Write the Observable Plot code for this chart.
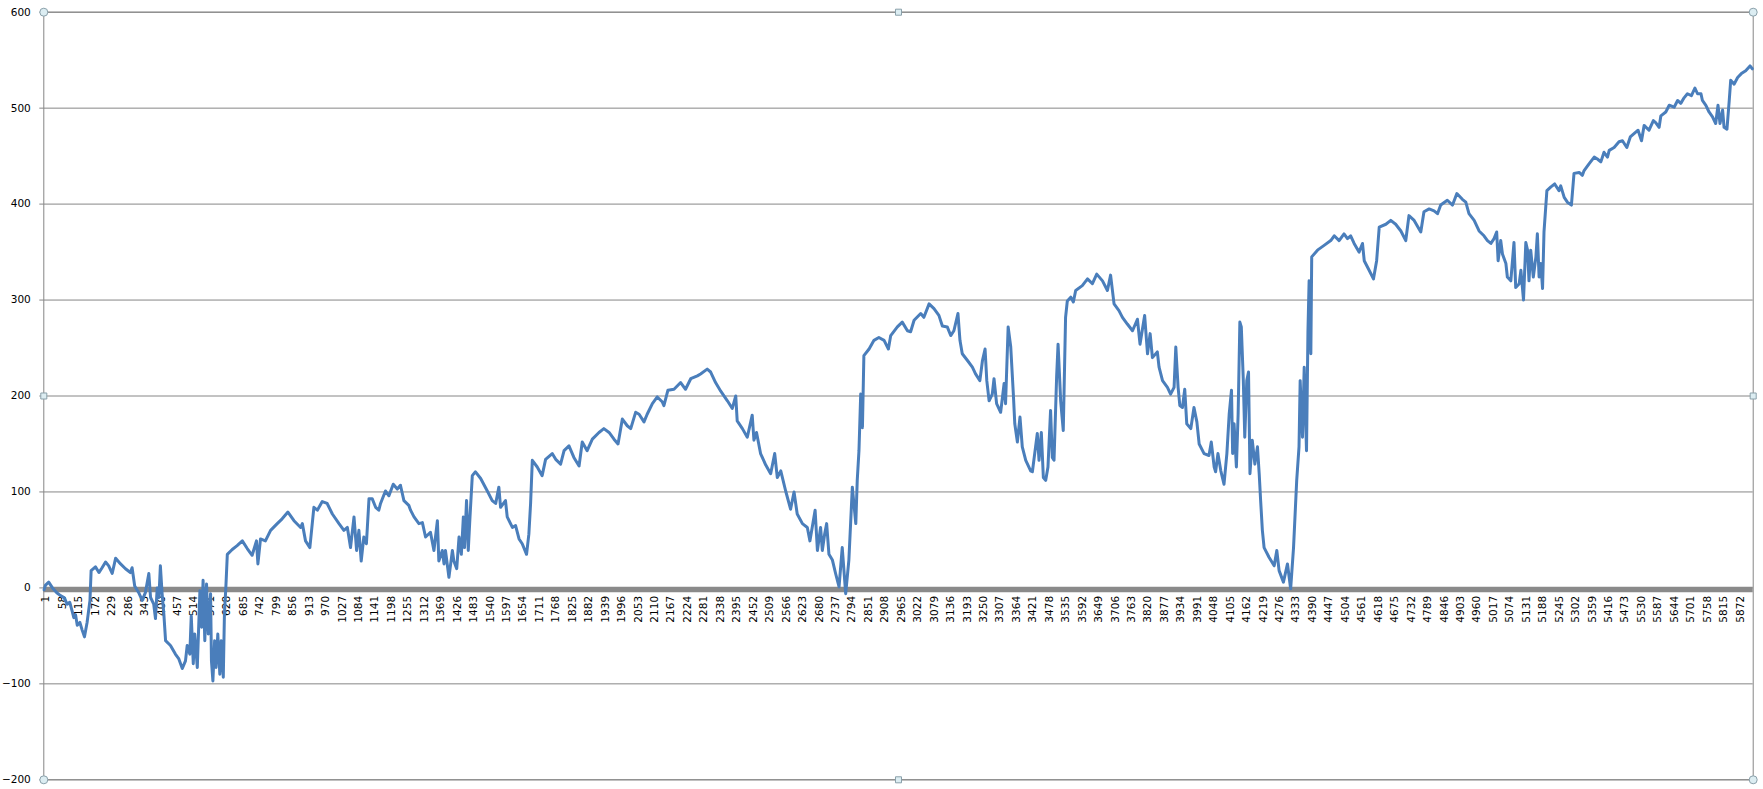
<!DOCTYPE html>
<html><head><meta charset="utf-8">
<script src="https://cdn.jsdelivr.net/npm/d3@7"></script>
<script src="https://cdn.jsdelivr.net/npm/@observablehq/plot@0.6"></script>
<style>html,body{margin:0;padding:0;background:#fff;} svg{display:block}</style>
</head><body><div id="chart"></div>
<script>
// Series: point index (category number) and value
const pointIndex = [
1,6,17,30,45,58,70,81,90,98,104,110,116,125,133,141,150,160,164,179,191,202,214,225,237,249,266,283,300,306,315,329,341,352,364,370,381,387,393,399,404,410,416,422,439,456,468,480,491,497,506,511,518,523,532,541,547,552,558,564,570,578,581,586,592,597,603,610,615,622,626,631,636,653,670,688,705,722,737,742,751,768,786,809,826,846,867,890,896,907,922,936,948,965,982,1000,1023,1040,1052,1063,1075,1084,1092,1100,1109,1118,1127,1138,1150,1161,
1167,1184,1196,1211,1225,1236,1248,1265,1271,1283,1300,1312,1323,1340,1352,1364,1369,1381,1387,1392,1404,1416,1421,1431,1439,1447,1454,1458,1465,1471,1477,1485,1496,1514,1537,1554,1566,1577,1583,1600,1606,1624,1635,1647,1658,1673,1681,1687,1693,1710,1727,1739,1762,1774,1791,1803,1820,1837,1855,1866,1883,1901,1924,1941,1959,1976,1990,2005,2022,2034,2051,2063,2080,2091,2109,2126,2143,2149,2163,2184,2207,2224,2242,2265,2276,2299,2311,2328,
2346,2369,2386,2398,2403,2421,2438,2455,2461,2470,2484,2502,2519,2533,2542,2554,2571,2588,2600,2611,2629,2646,2655,2673,2681,2692,2698,2706,2713,2721,2733,2744,2756,2767,2779,2790,2802,2814,2819,2825,2831,2837,2842,2860,2877,2894,2912,2927,2935,2958,2975,2993,3004,3016,3039,3050,3068,3085,3102,3114,3131,3143,3154,3168,3175,3183,3201,3218,3229,3244,3253,3262,3268,3276,3287,3293,3302,3316,3328,3333,3342,3351,3360,3365,3374,3383,3391,3403,3420,3426,3437,3443,3449,3457,3464,3472,3480,3489,3495,3501,3510,3515,3524,3533,3541,
3547,3559,3568,3576,3599,3617,3634,3649,3669,3686,3697,3709,3726,3738,3755,3773,3790,3799,3815,3825,3834,3842,3859,3865,3877,3894,3905,3917,3923,3931,3937,3946,3954,3961,3975,3986,3996,4004,4021,4038,4046,4056,4061,4069,4079,4090,4100,4108,4116,4120,4125,4133,4139,4145,4150,4157,4162,4169,4175,4180,4188,4197,4206,4212,4217,4223,4229,4246,4264,4273,4281,4296,4310,4321,4331,4342,4350,4354,4362,4368,4376,4381,4385,4391,4394,4414,4437,4460,4472,4489,4506,4518,4529,4541,4558,4570,4576,4593,4608,4619,4628,4651,4668,4685,4703,4720,4731,
4749,4772,4783,4801,4818,4830,4841,4864,4882,4897,4916,4928,4939,4957,4974,4991,5003,5015,5026,5035,5040,5049,5055,5067,5072,5084,5095,5101,5113,5119,5128,5136,5142,5147,5153,5162,5171,5176,5182,5188,5194,5199,5209,5223,5236,5251,5257,5269,5280,5294,5303,5321,5332,5338,5355,5373,5384,5396,5407,5419,5425,5442,5459,5471,5486,5498,5517,5525,5537,5546,5563,5578,5586,5598,5604,5621,5633,5650,5662,5673,5685,5696,5710,5722,5731,5743,5748,5760,5771,5783,5794,5802,5809,5818,5823,5833,5841,5846,5858,5870,5883,5898,5913,5921
];
const pointValue = [
-2,3,6,0,-5,-8,-10,-17,-15,-24,-31,-28,-39,-36,-44,-51,-36,-13,18,22,16,21,27,23,15,31,25,20,16,21,2,-5,-13,-5,15,-10,-17,-32,0,-10,23,-6,-27,-55,-60,-69,-74,-84,-76,-60,-69,-29,-79,-48,-83,-3,-41,8,-55,4,-48,-6,-76,-97,-55,-83,-48,-90,-55,-93,-27,1,35,40,44,49,41,34,49,25,51,49,60,67,72,79,70,63,67,49,42,84,81,90,88,77,67,60,63,42,74,39,60,28,53,46,93,93,84,81,
88,101,96,108,103,107,91,86,81,74,67,68,53,58,39,70,28,39,25,39,11,39,28,20,53,35,74,42,91,39,74,117,121,114,101,91,88,105,84,91,74,63,65,51,46,35,56,88,133,126,117,134,140,134,129,143,148,136,127,152,143,155,162,166,162,155,150,176,169,166,183,181,173,181,192,199,194,190,206,207,214,207,218,221,223,228,225,214,
205,195,187,200,174,166,157,180,154,162,140,128,119,140,115,122,101,82,100,77,67,63,49,81,39,63,39,56,67,35,29,15,1,42,-6,29,105,67,112,143,202,167,242,249,258,261,258,249,263,272,277,268,267,279,286,282,296,291,284,273,272,263,268,286,258,244,237,230,223,216,237,249,216,195,202,218,192,183,213,192,272,251,202,171,152,178,147,133,122,121,147,161,133,162,115,112,126,185,136,133,220,254,195,164,282,
299,303,298,310,315,322,317,327,320,310,326,296,289,282,275,268,280,254,284,244,265,240,246,230,216,209,202,209,251,209,190,188,207,171,166,188,173,150,140,138,152,126,121,140,122,108,140,181,206,140,171,126,181,277,272,216,157,216,225,119,154,129,147,119,91,60,42,32,23,39,18,6,25,-1,42,112,147,216,157,230,143,268,320,244,345,352,357,362,367,362,369,364,367,359,350,359,341,331,322,341,376,379,383,379,372,362,388,
383,371,392,395,393,390,399,404,399,411,405,402,390,383,372,367,362,359,364,371,341,362,348,338,324,320,360,313,317,331,300,360,352,320,352,324,345,369,324,338,312,371,414,418,421,414,419,407,402,399,432,433,430,435,442,449,447,444,454,449,456,459,465,466,459,470,475,477,466,482,477,487,485,480,492,496,503,501,508,505,511,515,513,521,515,515,508,503,496,491,484,503,484,498,480,478,508,529,525,532,536,539,544,541
];
const categoryCount = 5924;
const yTicks = [-200, -100, 0, 100, 200, 300, 400, 500, 600];
const xLabelStep = 57;
const xTicks = d3.range(1, 5873, xLabelStep);

const n = Math.min(pointIndex.length, pointValue.length);
const series = d3.range(n).map(k => ({i: pointIndex[k], v: pointValue[k]}));

const cornerHandles = [[0, 600], [categoryCount, 600], [0, -200], [categoryCount, -200]];
const sideHandles = [[categoryCount / 2, 600], [0, 200], [categoryCount, 200], [categoryCount / 2, -200]];

const chart = Plot.plot({
  width: 1763, height: 789,
  marginLeft: 43.3, marginRight: 10.3, marginTop: 11.7, marginBottom: 9.7,
  style: {fontFamily: "'DejaVu Sans', Verdana, sans-serif", fontSize: "10.5px", color: "#000", background: "#fff", overflow: "visible"},
  x: {domain: [0, categoryCount], axis: null},
  y: {domain: [-200, 600], axis: null},
  marks: [
    Plot.gridY(yTicks, {stroke: "#868686", strokeOpacity: 1, strokeWidth: 1}),
    Plot.frame({stroke: "#868686", strokeWidth: 1}),
    Plot.axisY(yTicks, {tickSize: 4, tickPadding: 9, stroke: "#868686", fill: "#000", fontSize: 10.5, label: null}),
    Plot.ruleY([0], {stroke: "#8a8a8a", strokeWidth: 5.5, dy: 1.5}),
    Plot.text(xTicks, {x: d => d, y: 0, text: d => String(d), rotate: -90, textAnchor: "end", dy: 8, dx: 2, fontSize: 10.5, fill: "#000"}),
    Plot.line(series, {x: "i", y: "v", stroke: "#4a7ebb", strokeWidth: 3, strokeLinejoin: "round", strokeLinecap: "round"}),
    Plot.dot(cornerHandles, {x: d => d[0], y: d => d[1], r: 4, fill: "#dcedf2", stroke: "#8aa0aa", strokeWidth: 1}),
    Plot.dot(sideHandles, {x: d => d[0], y: d => d[1], r: 3.4, symbol: "square", fill: "#dcedf2", stroke: "#8aa0aa", strokeWidth: 1})
  ]
});
document.getElementById("chart").appendChild(chart);
</script>
</body></html>
